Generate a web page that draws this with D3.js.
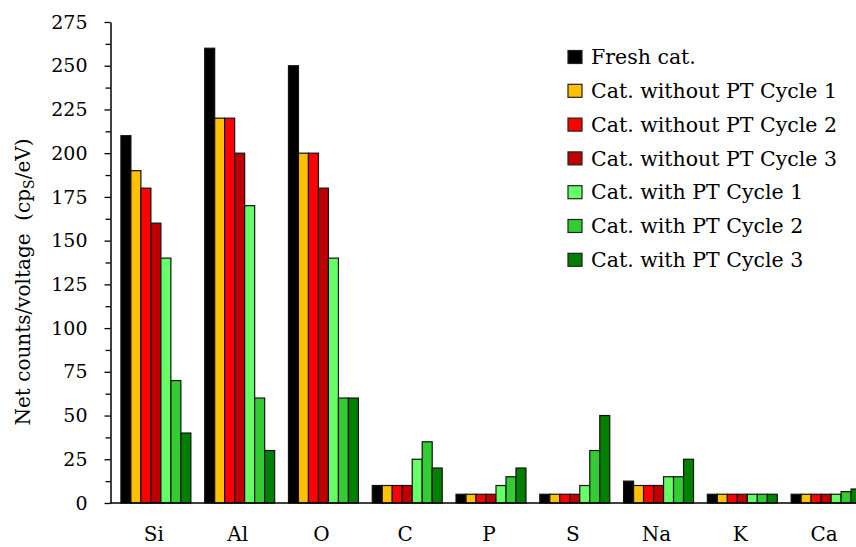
<!DOCTYPE html>
<html>
<head>
<meta charset="utf-8">
<script src="https://cdn.jsdelivr.net/npm/d3@7"></script>
<style>
  html, body { margin: 0; padding: 0; background: #fff; }
  svg { display: block; }
  text { font-family: "DejaVu Serif", "Liberation Serif", serif; fill: #000; }
</style>
</head>
<body>
<svg id="chart" width="856" height="547"></svg>
<script>
// Elements measured
const categories = ["Si", "Al", "O", "C", "P", "S", "Na", "K", "Ca"];

// Sample series
const seriesNames = [
  "Fresh cat.",
  "Cat. without PT Cycle 1",
  "Cat. without PT Cycle 2",
  "Cat. without PT Cycle 3",
  "Cat. with PT Cycle 1",
  "Cat. with PT Cycle 2",
  "Cat. with PT Cycle 3"
];
const seriesColors = ["#000000", "#FFC000", "#FF0000", "#C00000", "#66FF66", "#33CC33", "#008000"];

// Net counts/voltage per element, one array per sample
const freshCat      = [210, 260, 250, 10, 5, 5, 12.5, 5, 5];
const noPtCycle1    = [190, 220, 200, 10, 5, 5, 10, 5, 5];
const noPtCycle2    = [180, 220, 200, 10, 5, 5, 10, 5, 5];
const noPtCycle3    = [160, 200, 180, 10, 5, 5, 10, 5, 5];
const withPtCycle1  = [140, 170, 140, 25, 10, 10, 15, 5, 5];
const withPtCycle2  = [70, 60, 60, 35, 15, 30, 15, 5, 6.5];
const withPtCycle3  = [40, 30, 60, 20, 20, 50, 25, 5, 8];

const yTicks = [0, 25, 50, 75, 100, 125, 150, 175, 200, 225, 250, 275];
const yMinorTicks = [12.5, 37.5, 62.5, 87.5, 112.5, 137.5, 162.5, 187.5, 212.5, 237.5, 262.5];

const seriesValues = [freshCat, noPtCycle1, noPtCycle2, noPtCycle3, withPtCycle1, withPtCycle2, withPtCycle3];

const svg = d3.select("#chart");
const W = 856, H = 547;
const axisX = 110.5;
const plotTop = 22, plotBottom = 503;

const y = d3.scaleLinear().domain([0, 275]).range([plotBottom, plotTop]);
const x0 = d3.scaleBand().domain(categories).range([114, 868]).padding(0);
const groupW = x0.bandwidth() * 0.835;
const x1 = d3.scaleBand().domain(seriesNames).range([0, groupW]).padding(0);
const color = d3.scaleOrdinal().domain(seriesNames).range(seriesColors);

// Bars
const groups = svg.append("g").selectAll("g")
  .data(categories)
  .join("g")
  .attr("transform", c => `translate(${x0(c) + (x0.bandwidth() - groupW) / 2},0)`);

groups.selectAll("rect")
  .data((c, ci) => seriesNames.map((s, si) => ({ s, v: seriesValues[si][ci] })))
  .join("rect")
  .attr("x", d => x1(d.s))
  .attr("y", d => y(d.v))
  .attr("width", x1.bandwidth())
  .attr("height", d => y(0) - y(d.v))
  .attr("fill", d => color(d.s))
  .attr("stroke", "#111")
  .attr("stroke-width", 1.2);

// Y axis: major ticks with labels, minor ticks without
const yAxis = svg.append("g")
  .attr("transform", `translate(${axisX},0)`)
  .call(d3.axisLeft(y).tickValues(yTicks).tickSize(6).tickPadding(17).tickSizeOuter(0))
  .call(g => g.select(".domain").attr("stroke", "#000").attr("stroke-width", 1.5));
yAxis.selectAll(".tick line").attr("stroke", "#000").attr("stroke-width", 1.3);
yAxis.selectAll(".tick text")
  .style("font-family", "'DejaVu Serif', serif")
  .style("font-size", "19px");

svg.append("g")
  .attr("transform", `translate(${axisX},0)`)
  .call(d3.axisLeft(y).tickValues(yMinorTicks).tickSize(5).tickFormat(""))
  .call(g => g.select(".domain").remove())
  .selectAll(".tick line").attr("stroke", "#000").attr("stroke-width", 1.3);

// X baseline and category labels
svg.append("line")
  .attr("x1", axisX).attr("x2", W)
  .attr("y1", y(0)).attr("y2", y(0))
  .attr("stroke", "#000").attr("stroke-width", 1.5);

const xAxis = svg.append("g")
  .attr("transform", `translate(0,${y(0)})`)
  .call(d3.axisBottom(x0).tickSize(0).tickPadding(24))
  .call(g => g.select(".domain").remove());
xAxis.selectAll(".tick text")
  .attr("dx", -2)
  .style("font-family", "'DejaVu Serif', serif")
  .style("font-size", "20px");

// Y axis title with subscript
const yTitle = svg.append("text")
  .attr("transform", `translate(30,${282}) rotate(-90)`)
  .attr("text-anchor", "middle")
  .style("font-size", "20px");
yTitle.append("tspan").text("Net counts/voltage\u00A0\u00A0(cp");
yTitle.append("tspan").attr("dy", 4).style("font-size", "14px").text("S");
yTitle.append("tspan").attr("dy", -4).text("/eV)");

// Legend
const legend = svg.append("g").attr("transform", "translate(568,57)");
const rowH = 33.8;
const items = legend.selectAll("g")
  .data(seriesNames)
  .join("g")
  .attr("transform", (d, i) => `translate(0,${i * rowH})`);
items.append("rect")
  .attr("x", 0).attr("y", -6.5)
  .attr("width", 14).attr("height", 13)
  .attr("fill", d => color(d))
  .attr("stroke", "#222").attr("stroke-width", 1.2);
items.append("text")
  .attr("x", 23).attr("y", 0)
  .attr("dy", "0.35em")
  .style("font-size", "20.5px")
  .text(d => d);
</script>
</body>
</html>
